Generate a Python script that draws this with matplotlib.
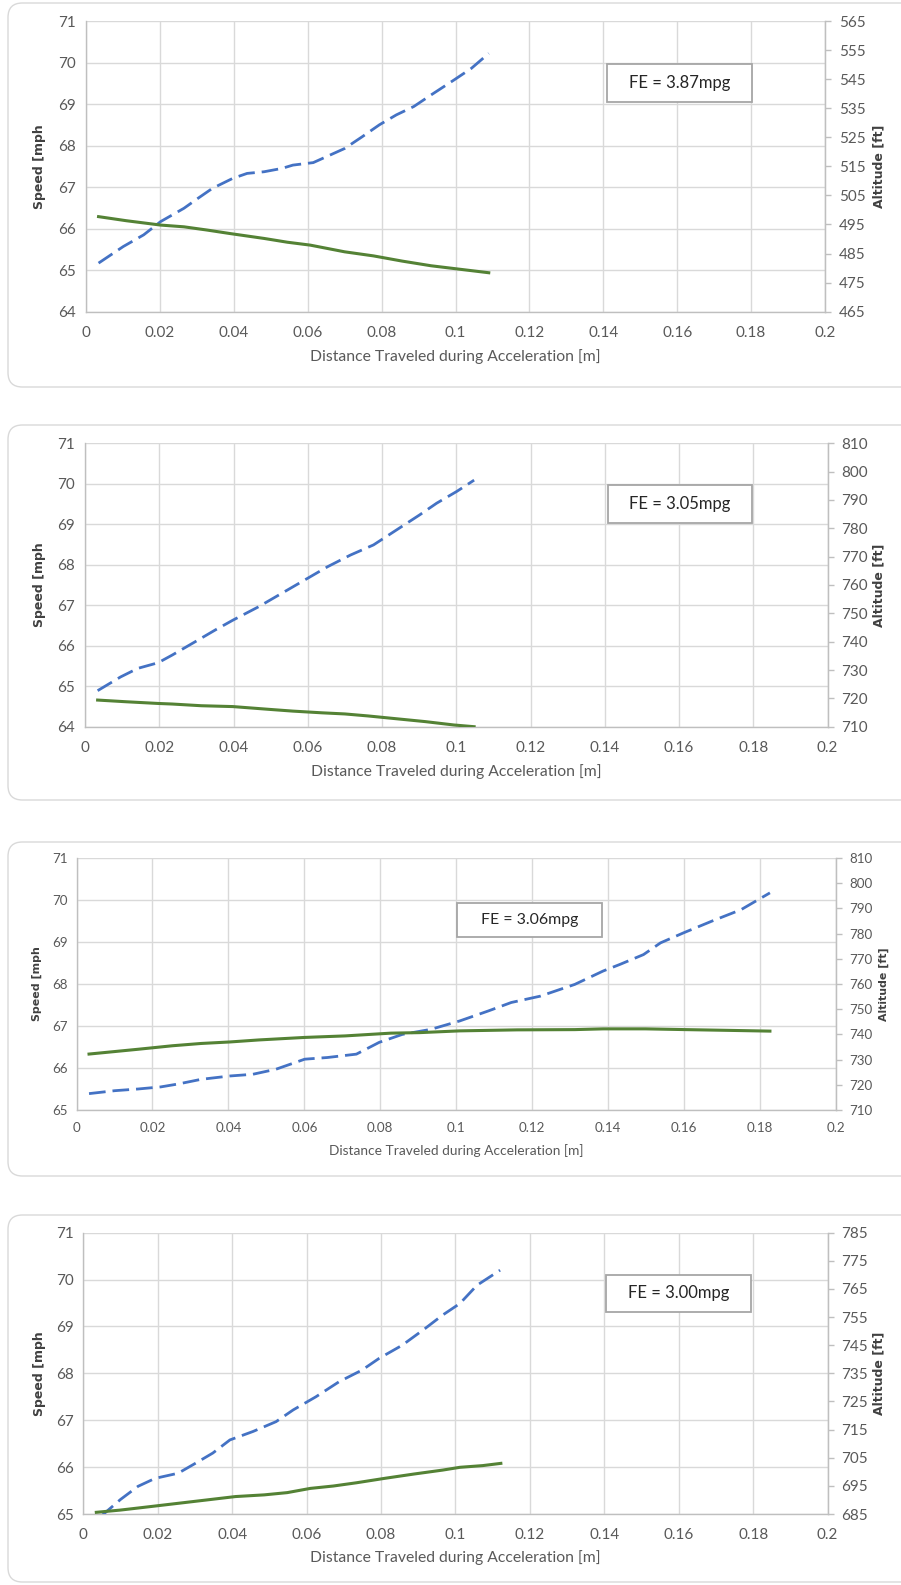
import matplotlib
matplotlib.use("Agg")
import matplotlib.pyplot as plt
from matplotlib.patches import FancyBboxPatch, Rectangle

plt.rcParams['font.family'] = ['Lato', 'DejaVu Sans']

W, H = 901, 1585

# ---------------- data ----------------
x_ticks = [0, 0.02, 0.04, 0.06, 0.08, 0.1, 0.12, 0.14, 0.16, 0.18, 0.2]
x_tick_labels = ["0", "0.02", "0.04", "0.06", "0.08", "0.1", "0.12", "0.14", "0.16", "0.18", "0.2"]

# Panel 1 (FE = 3.87mpg)
p1_speed_x = [0.0034, 0.0101, 0.0156, 0.0202, 0.0265, 0.0303, 0.0342, 0.0397, 0.0436, 0.0482,
              0.053, 0.056, 0.0615, 0.066, 0.070, 0.0747, 0.0794, 0.084, 0.0887, 0.0934,
              0.0996, 0.1043, 0.109]
p1_speed = [65.17, 65.57, 65.85, 66.17, 66.49, 66.73, 66.97, 67.21, 67.33, 67.37,
            67.45, 67.53, 67.59, 67.77, 67.93, 68.21, 68.50, 68.74, 68.94, 69.22,
            69.58, 69.86, 70.22]
p1_alt_x = [0.0034, 0.0109, 0.0202, 0.0265, 0.0327, 0.0389, 0.0482, 0.0545, 0.0607, 0.070,
            0.0778, 0.0856, 0.0934, 0.1012, 0.109]
p1_alt = [497.7, 496.3, 494.8, 494.2, 493.1, 491.9, 490.2, 488.9, 487.9, 485.6,
          484.2, 482.4, 480.8, 479.6, 478.4]

# Panel 2 (FE = 3.05mpg)
p2_speed_x = [0.0034, 0.0096, 0.0142, 0.0197, 0.0235, 0.0297, 0.0351, 0.0398, 0.0467, 0.0529,
              0.0591, 0.0653, 0.0715, 0.0777, 0.0839, 0.0901, 0.0947, 0.1001, 0.1048]
p2_speed = [64.89, 65.23, 65.44, 65.58, 65.77, 66.10, 66.39, 66.63, 66.96, 67.29,
            67.62, 67.95, 68.24, 68.49, 68.86, 69.23, 69.52, 69.81, 70.09]
p2_alt_x = [0.0034, 0.0111, 0.0197, 0.0235, 0.0313, 0.0398, 0.0498, 0.0560, 0.0638, 0.0700,
            0.0762, 0.0839, 0.0916, 0.0994, 0.1048]
p2_alt = [719.4, 718.8, 718.2, 718.0, 717.4, 717.1, 716.1, 715.5, 714.9, 714.5,
          713.8, 712.8, 711.8, 710.6, 710.0]

# Panel 3 (FE = 3.06mpg)
p3_speed_x = [0.0033, 0.0101, 0.0162, 0.0222, 0.0268, 0.0328, 0.0404, 0.0464, 0.0525, 0.0601,
              0.0661, 0.0737, 0.0797, 0.0858, 0.0933, 0.1009, 0.1085, 0.1145, 0.1221, 0.1312,
              0.1387, 0.1432, 0.1493, 0.1538, 0.1599, 0.1674, 0.1750, 0.1826]
p3_speed = [65.39, 65.46, 65.50, 65.55, 65.62, 65.73, 65.81, 65.85, 65.97, 66.21,
            66.25, 66.33, 66.61, 66.80, 66.92, 67.12, 67.36, 67.56, 67.71, 67.99,
            68.31, 68.47, 68.70, 68.98, 69.22, 69.50, 69.77, 70.17]
p3_alt_x = [0.0033, 0.0101, 0.0162, 0.0253, 0.0328, 0.0404, 0.0480, 0.0601, 0.0707, 0.0828,
            0.0903, 0.1009, 0.1160, 0.1312, 0.1387, 0.1498, 0.1604, 0.1680, 0.1755, 0.1826]
p3_alt = [732.2, 733.2, 734.1, 735.5, 736.4, 737.0, 737.8, 738.8, 739.4, 740.5,
          740.7, 741.4, 741.8, 741.9, 742.2, 742.2, 741.9, 741.7, 741.5, 741.3]

# Panel 4 (FE = 3.00mpg)
p4_speed_x = [0.0046, 0.0100, 0.0147, 0.0193, 0.0255, 0.0301, 0.0348, 0.0394, 0.0456, 0.0518,
              0.0564, 0.0625, 0.0687, 0.0749, 0.0795, 0.0857, 0.0919, 0.0965, 0.1012, 0.1058,
              0.1120]
p4_speed = [64.94, 65.31, 65.59, 65.76, 65.87, 66.08, 66.30, 66.58, 66.76, 66.97,
            67.22, 67.50, 67.82, 68.07, 68.32, 68.60, 68.96, 69.24, 69.49, 69.88,
            70.20]
p4_alt_x = [0.0035, 0.0100, 0.0178, 0.0255, 0.0332, 0.0409, 0.0486, 0.0548, 0.0610, 0.0672,
            0.0734, 0.0811, 0.0888, 0.0965, 0.1012, 0.1073, 0.1122]
p4_alt = [685.6, 686.4, 687.6, 688.8, 690.0, 691.2, 691.8, 692.6, 694.1, 694.95,
          696.1, 697.7, 699.2, 700.6, 701.6, 702.2, 703.0]

fe_labels = ["FE = 3.87mpg", "FE = 3.05mpg", "FE = 3.06mpg", "FE = 3.00mpg"]
speed_ylims = [(64, 71), (64, 71), (65, 71), (65, 71)]
alt_ylims = [(465, 565), (710, 810), (710, 810), (685, 785)]

panels = [
    (p1_speed_x, p1_speed, p1_alt_x, p1_alt),
    (p2_speed_x, p2_speed, p2_alt_x, p2_alt),
    (p3_speed_x, p3_speed, p3_alt_x, p3_alt),
    (p4_speed_x, p4_speed, p4_alt_x, p4_alt),
]

# ---------------- layout (pixels) ----------------
areas = [(86, 825, 21, 311.7), (85, 827.6, 443.3, 726.7),
         (76.5, 836, 858, 1110), (83.3, 827.6, 1232.7, 1514)]
boxes = [(3, 387), (425, 800), (842, 1176), (1215, 1582)]
fe_boxes = [(607, 752, 64, 102), (607.5, 751.7, 485, 522.7),
            (457, 602, 903, 937), (606, 751, 1275, 1311.7)]
xlabel_y = [357, 771.7, 1150.7, 1558]
ylabel_lx = [40, 40, 37, 40]
ylabel_rx = [879, 879, 884, 879]
font_scale = [1.0, 1.0, 0.88, 1.0]

BLUE = "#4472C4"
GREEN = "#548235"
GRID = "#d9d9d9"
SPINE = "#bfbfbf"
TXT = "#595959"

fig = plt.figure(figsize=(W / 100, H / 100), dpi=100)
fig.patch.set_facecolor("white")

def fx(x):
    return x / W

def fy(y):
    return 1 - y / H

for i, (sx, sv, ax_x, av) in enumerate(panels):
    fs = font_scale[i]
    bt, bb = boxes[i]
    fig.patches.append(FancyBboxPatch((fx(8), fy(bb)), fx(1000) - fx(8), (bb - bt) / H,
                                      boxstyle="round,pad=0,rounding_size=0.016",
                                      transform=fig.transFigure, facecolor="none",
                                      edgecolor="#d9d9d9", linewidth=1.0, zorder=-1,
                                      mutation_aspect=W / H))
    l, r, t, b = areas[i]
    ax = fig.add_axes([fx(l), fy(b), (r - l) / W, (b - t) / H])
    ax.set_facecolor("none")
    ax.set_xlim(0, 0.2)
    ax.set_ylim(*speed_ylims[i])
    ax.set_xticks(x_ticks)
    ax.set_xticklabels(x_tick_labels)
    ax.set_yticks(list(range(speed_ylims[i][0], speed_ylims[i][1] + 1)))
    ax.grid(True, color=GRID, linewidth=1.0)
    ax.set_axisbelow(True)
    ax.spines["top"].set_visible(False)
    for s in ["left", "bottom", "right"]:
        ax.spines[s].set_color(SPINE)
        ax.spines[s].set_linewidth(1.0)
    ax.tick_params(axis="both", length=0, labelsize=11 * fs, colors=TXT)
    ax.tick_params(axis="y", pad=7 * fs)
    ax.tick_params(axis="x", pad=10 * fs)

    ax2 = ax.twinx()
    ax2.set_ylim(*alt_ylims[i])
    ax2.set_yticks(list(range(alt_ylims[i][0], alt_ylims[i][1] + 1, 10)))
    ax2.tick_params(axis="y", length=4, width=1, color=SPINE, labelsize=11 * fs,
                    labelcolor=TXT, pad=6 * fs)
    for s in ["top", "left", "bottom"]:
        ax2.spines[s].set_visible(False)
    ax2.spines["right"].set_color(SPINE)

    ax.plot(sx, sv, color=BLUE, linewidth=2.0, linestyle=(0, (6, 2.5)),
            solid_capstyle="butt", zorder=3)
    ax2.plot(ax_x, av, color=GREEN, linewidth=2.2, zorder=3)

    fig.text(fx((l + r) / 2), fy(xlabel_y[i]),
             "Distance Traveled during Acceleration [m]",
             ha="center", va="center", fontsize=11.3 * fs, color=TXT)
    fig.text(fx(ylabel_lx[i]), fy((t + b) / 2), "Speed [mph",
             rotation=90, ha="center", va="center", fontsize=9 * fs,
             fontweight="bold", color="#404040", family=["DejaVu Sans"])
    fig.text(fx(ylabel_rx[i]), fy((t + b) / 2), "Altitude [ft]",
             rotation=90, ha="center", va="center", fontsize=9 * fs,
             fontweight="bold", color="#404040", family=["DejaVu Sans"])

    fl, fr, ft, fb = fe_boxes[i]
    fig.patches.append(Rectangle((fx(fl), fy(fb)), (fr - fl) / W, (fb - ft) / H,
                                 transform=fig.transFigure, facecolor="white",
                                 edgecolor="#a6a6a6", linewidth=1.3, zorder=5))
    fig.text(fx((fl + fr) / 2), fy((ft + fb) / 2), fe_labels[i],
             ha="center", va="center", fontsize=12 * (1 if fs == 1 else 0.95),
             color="#262626", zorder=6)

fig.savefig("out.png", dpi=100, facecolor="white")
